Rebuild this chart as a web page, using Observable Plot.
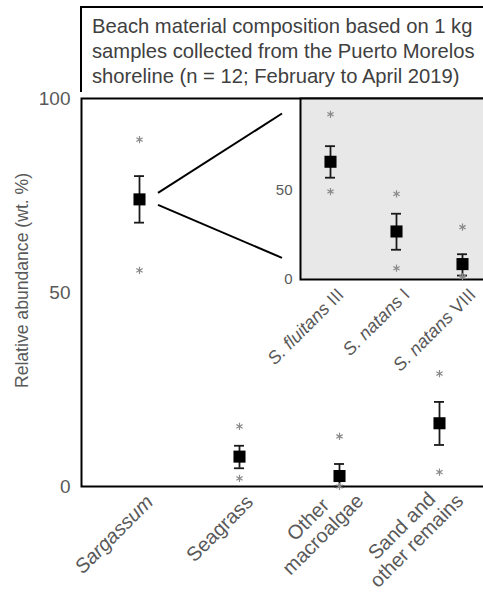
<!DOCTYPE html>
<html><head><meta charset="utf-8">
<script src="https://cdn.jsdelivr.net/npm/d3@7"></script>
<script src="https://cdn.jsdelivr.net/npm/@observablehq/plot@0.6"></script>
<style>
body{margin:0;background:#fff;overflow:hidden}
#wrap{position:relative;width:483px;height:593px;overflow:hidden;font-family:"Liberation Sans",Arial,sans-serif}
#wrap svg{position:absolute;left:0;top:0;max-width:none !important;width:500px !important;height:593px !important}
#title{position:absolute;left:80px;top:6px;width:440px;height:78px;border-top:2px solid #000;border-left:2px solid #000;padding:6px 0 0 10px;font-size:20.2px;line-height:25px;color:#404040;z-index:2;white-space:nowrap}
</style></head>
<body><div id="wrap"><div id="title">Beach material composition based on 1 kg<br>samples collected from the Puerto Morelos<br>shoreline (n = 12; February to April 2019)</div></div>
<script>
// Main chart data (wt.%)
const mainCats = ["Sargassum", "Seagrass", "Other\nmacroalgae", "Sand and\nother remains"];
const mainMean = [74.0, 7.7, 2.7, 16.3];
const mainLow  = [68.0, 4.7, 0.0, 10.7];
const mainHigh = [80.0, 10.5, 5.8, 21.8];
const mainMin  = [55.7, 2.1, 0.0, 3.7];
const mainMax  = [89.4, 15.5, 12.9, 29.1];
const mainTicks = [0, 50, 100];

// Inset: Sargassum morphotypes
const insetCats = ["S. fluitans III", "S. natans I", "S. natans VIII"];
const insetMean = [65.7, 26.8, 8.6];
const insetLow  = [56.8, 16.6, 2.2];
const insetHigh = [74.4, 36.7, 14.1];
const insetMin  = [49.1, 6.3, 1.5];
const insetMax  = [92.2, 47.8, 29.2];
const insetTicks = [0, 50];

const yLabel = "Relative abundance (wt. %)";
const font = '"Liberation Sans", Arial, sans-serif';

const mainData = mainCats.map((c, i) => ({cat: c, mean: mainMean[i], low: mainLow[i], high: mainHigh[i], min: mainMin[i], max: mainMax[i]}));
const insetData = insetCats.map((c, i) => ({cat: c, mean: insetMean[i], low: insetLow[i], high: insetHigh[i], min: insetMin[i], max: insetMax[i]}));

function pointMarks(data) {
  return [
    Plot.ruleX(data, {x: "cat", y1: "low", y2: "high", stroke: "#1a1a1a", strokeWidth: 1.8}),
    Plot.tickY(data, {x: "cat", y: "low", stroke: "#1a1a1a", strokeWidth: 1.8}),
    Plot.tickY(data, {x: "cat", y: "high", stroke: "#1a1a1a", strokeWidth: 1.8}),
    Plot.dot(data, {x: "cat", y: "max", symbol: "asterisk", r: 3.4, stroke: "#8a8a8a", strokeWidth: 1.2}),
    Plot.dot(data, {x: "cat", y: "min", symbol: "asterisk", r: 3.4, stroke: "#8a8a8a", strokeWidth: 1.2}),
    Plot.dot(data, {x: "cat", y: "mean", symbol: "square", r: 6.8, fill: "#000", stroke: "none"})
  ];
}

function catLabels(data, fontSize) {
  return Plot.text(data, {x: "cat", text: "cat", frameAnchor: "bottom", rotate: -45, textAnchor: "end", lineAnchor: "middle", lineHeight: 1.05, dx: 10, dy: 12, fontSize, fill: "#595959", className: "catlab"});
}

// zoom connector lines from the Sargassum point toward the inset
const zoomGap = 19, zoomSpread = 6, zoomEndX = 282, zoomEndTop = 96, zoomEndBottom = 58.8;
function zoomLines(index, scales) {
  const x0 = scales.x("Sargassum") + scales.x.bandwidth() / 2 + zoomGap;
  const ym = scales.y(mainMean[0]);
  const g = d3.create("svg:g").attr("stroke", "#000").attr("stroke-width", 2);
  g.append("line").attr("x1", x0).attr("y1", ym - zoomSpread).attr("x2", zoomEndX).attr("y2", scales.y(zoomEndTop));
  g.append("line").attr("x1", x0).attr("y1", ym + zoomSpread).attr("x2", zoomEndX).attr("y2", scales.y(zoomEndBottom));
  return g.node();
}

const main = Plot.plot({
  width: 500, height: 593,
  marginLeft: 81, marginTop: 98, marginBottom: 107, marginRight: 0,
  style: {fontFamily: font, background: "none", overflow: "visible", maxWidth: "none"},
  x: {type: "band", domain: mainCats, range: [134, 444], paddingInner: 0.9, paddingOuter: 0, axis: null},
  y: {domain: [0, 100], axis: null},
  marks: [
    Plot.frame({stroke: "#000", strokeWidth: 2}),
    Plot.axisY({ticks: mainTicks, tickSize: 0, tickPadding: 11, fontSize: 19, color: "#595959", label: null}),
    Plot.text([yLabel], {frameAnchor: "left", textAnchor: "middle", rotate: -90, dx: -59, dy: -12, fontSize: 17.6, fill: "#595959"}),
    catLabels(mainData, 20),
    zoomLines,
    ...pointMarks(mainData)
  ]
});

const inset = Plot.plot({
  width: 500, height: 593,
  marginLeft: 300, marginTop: 98, marginBottom: 314, marginRight: 0,
  style: {fontFamily: font, background: "none", overflow: "visible", maxWidth: "none"},
  x: {type: "band", domain: insetCats, range: [324.7, 467.3], paddingInner: 0.849, paddingOuter: 0, axis: null},
  y: {domain: [0, 101], axis: null},
  marks: [
    Plot.frame({fill: "#e8e8e8", stroke: "#000", strokeWidth: 2}),
    Plot.axisY({ticks: insetTicks, tickSize: 0, tickPadding: 8, fontSize: 15, color: "#595959", label: null}),
    catLabels(insetData, 18),
    ...pointMarks(insetData)
  ]
});

const wrap = document.getElementById("wrap");
wrap.appendChild(main);
wrap.appendChild(inset);

// italics for taxon names, centered multi-line labels
d3.select(wrap).selectAll("g.catlab text").each(function () {
  const t = d3.select(this);
  const tsp = t.selectAll("tspan");
  if (tsp.size() > 1) {
    const lens = tsp.nodes().map(n => n.getComputedTextLength());
    const mx = d3.max(lens);
    tsp.each(function (d, i) { d3.select(this).attr("x", -(mx - lens[i]) / 2); });
    t.attr("transform", (t.attr("transform") || "") + " translate(8,-4)");
    return;
  }
  const s = this.textContent;
  if (s === "Sargassum") { t.style("font-style", "italic"); return; }
  const m = s.match(/^(S\. \w+) ([IVX]+)$/);
  if (m) {
    t.text(null);
    t.append("tspan").style("font-style", "italic").text(m[1]);
    t.append("tspan").text(" " + m[2]);
  }
});
</script></body></html>
